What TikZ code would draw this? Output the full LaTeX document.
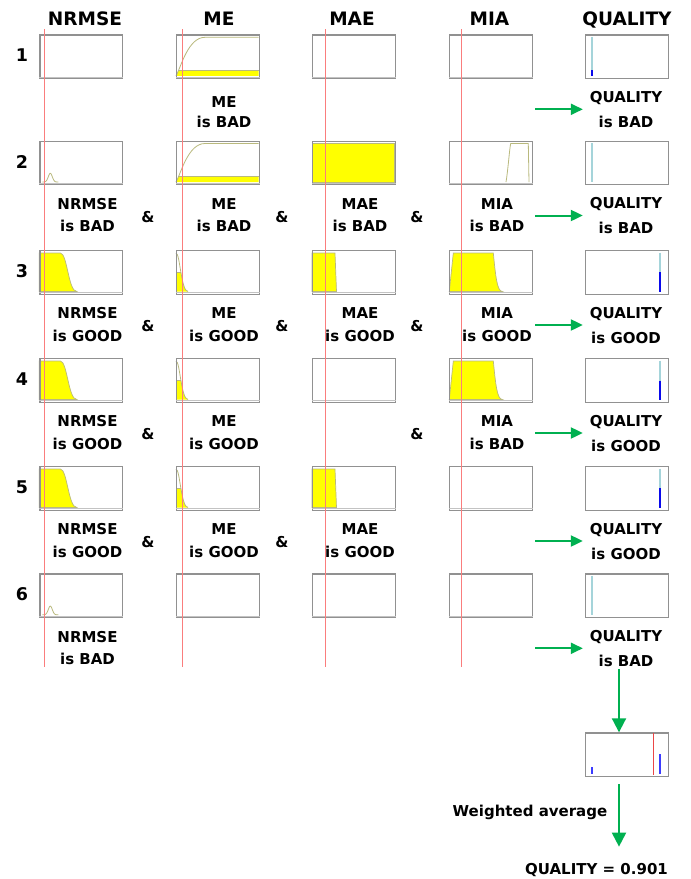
\documentclass[tikz,border=0pt]{standalone}
\usepackage{fontspec}
\setmainfont{DejaVu Sans}
\usetikzlibrary{arrows.meta}
\definecolor{curvecol}{RGB}{185,185,125}
\definecolor{boxgray}{RGB}{145,145,145}
\definecolor{axisgray}{RGB}{195,195,195}
\definecolor{redln}{RGB}{250,125,125}
\definecolor{grn}{RGB}{0,176,80}
\definecolor{lblue}{RGB}{165,212,218}
\definecolor{dblue}{RGB}{10,10,235}
\definecolor{yel}{RGB}{255,255,0}
\definecolor{aggred}{RGB}{235,70,70}
\definecolor{aggblue}{RGB}{60,60,255}
\newcommand\atbox[3]{\begin{scope}[shift={(#1,#2)}]#3\end{scope}}
\newcommand\shNRbad{\draw[curve] plot[domain=3:19,samples=41,smooth] (\x,{41.5-8.7*exp(-((\x-11)^2)/8)});}
\newcommand\shNRgood{\filldraw[yfill] (0,41.5) -- (0,3) -- (21,3) .. controls (28,3) and (29,41.5) .. (37.5,41.5) -- cycle;}
\newcommand\shMEbad{\begin{scope}\clip (0,35.7) rectangle (82.5,42);\fill[yel] (0,41.5) .. controls (5,33) and (12,3) .. (29,3) -- (82.5,3) -- (82.5,41.5) -- cycle;\end{scope}%
 \draw[curve] (0,41.5) .. controls (5,33) and (12,3) .. (29,3) -- (82.5,3);%
 \draw[curve] (3,35.7) -- (82.5,35.7);}
\newcommand\shMEgood{\begin{scope}\clip (0,22.3) rectangle (82.5,42);\fill[yel] (0,3) .. controls (4,3) and (5,41.5) .. (12,41.5) -- (0,41.5) -- cycle;\end{scope}%
 \draw[curve] (0,3) .. controls (4,3) and (5,41.5) .. (12,41.5);%
 \draw[curve] (0,22.3) -- (4.8,22.3);}
\newcommand\shMAEgood{\filldraw[yfill] (0,3) -- (23,3) -- (24.5,41.5) -- (0,41.5) -- cycle;}
\newcommand\shMAEbad{\filldraw[yfill] (0,3) rectangle (82.5,41.5);}
\newcommand\shMIAbad{\draw[curve] (57,41.5) .. controls (59,30) and (60.5,8) .. (61.7,3) -- (79.3,3) -- (80,41.5);}
\newcommand\shMIAgood{\filldraw[yfill] (0.3,41.5) -- (4.3,3) -- (44.3,3) .. controls (46.5,25) and (48,41.5) .. (53.3,41.5) -- cycle;}
\newcommand\shQ[2]{\draw[qlight] (#1,2.5) -- (#1,41.8); \draw[qdark] (#1,#2) -- (#1,41.8);}
\newcommand\shQl[1]{\draw[qlight] (#1,2.5) -- (#1,41.8);}
\begin{document}
\begin{tikzpicture}[x=1pt,y=-1pt,
  mfbox/.style={draw=boxgray, line width=1.2pt, minimum width=82.5pt, minimum height=43.5pt, inner sep=0pt, anchor=north west},
  hdr/.style={font=\fontsize{18.5}{20}\selectfont\bfseries, anchor=base},
  rownum/.style={font=\fontsize{17.5}{20}\selectfont\bfseries, anchor=base},
  lab/.style={font=\fontsize{15}{22.5}\selectfont\bfseries, align=center, inner sep=2pt},
  labone/.style={font=\fontsize{15}{20.5}\selectfont\bfseries, align=center, inner sep=2pt},
  qlab/.style={font=\fontsize{15}{25}\selectfont\bfseries, align=center, inner sep=2pt},
  amp/.style={font=\fontsize{15}{16}\selectfont\bfseries, anchor=base},
  plain/.style={font=\fontsize{15}{18}\selectfont\bfseries, anchor=base},
  curve/.style={draw=curvecol, line width=0.8pt},
  yfill/.style={fill=yel, draw=curvecol, line width=0.7pt},
  qlight/.style={draw=lblue, line width=2.3pt},
  qdark/.style={draw=dblue, line width=2.3pt},
  garrow/.style={draw=grn, line width=2pt, -{Triangle[length=12pt,width=11pt]}},
  garrowv/.style={draw=grn, line width=2pt, -{Triangle[length=14pt,width=14pt]}},
  redv/.style={draw=redln, line width=1pt}]
\useasboundingbox (0,0) rectangle (691,879);
\fill[white] (0,0) rectangle (691,879);
% ---- shapes inside boxes
\atbox{176}{34.3}{\shMEbad}
\atbox{585}{34.3}{\shQ{6.7}{36}}
\atbox{39.3}{140.5}{\shNRbad}
\atbox{176}{140.5}{\shMEbad}
\atbox{312}{140.5}{\shMAEbad}
\atbox{449}{140.5}{\shMIAbad}
\atbox{585}{140.5}{\shQl{6.7}}
\atbox{39.3}{250}{\shNRgood}
\atbox{176}{250}{\shMEgood}
\atbox{312}{250}{\shMAEgood}
\atbox{449}{250}{\shMIAgood}
\atbox{585}{250}{\shQ{75}{22.3}}
\atbox{39.3}{358}{\shNRgood}
\atbox{176}{358}{\shMEgood}
\atbox{449}{358}{\shMIAgood}
\atbox{585}{358}{\shQ{75}{22.7}}
\atbox{39.3}{466}{\shNRgood}
\atbox{176}{466}{\shMEgood}
\atbox{312}{466}{\shMAEgood}
\atbox{585}{466}{\shQ{75}{22}}
\atbox{39.3}{573.3}{\shNRbad}
\atbox{585}{573.3}{\shQl{6.7}}
% ---- boxes
\foreach \r/\T in {1/34.3,2/140.5,3/250,4/358,5/466,6/573.3}{
  \foreach \c/\L in {1/39.3,2/176,3/312,4/449}{
    \node[mfbox] (b\r\c) at (\L,\T) {};
    \draw[draw=axisgray, line width=1pt] ([yshift=1.8pt]b\r\c.south west) -- ([yshift=1.8pt]b\r\c.south east);
  }
  \node[mfbox] (b\r5) at (585,\T) {};
}
\node[mfbox] (fb) at (585,732.3) {};
\atbox{585}{732.3}{%
  \draw[draw=aggblue, line width=1.6pt] (6.7,35) -- (6.7,41.5);
  \draw[draw=aggred, line width=1.2pt] (68.5,0.6) -- (68.5,42.9);
  \draw[draw=aggblue, line width=1.6pt] (75,22) -- (75,41.5);}
% ---- red vertical lines
\foreach \x in {44.5,182.5,325.5,461.5}{\draw[redv] (\x,29) -- (\x,667);}
% ---- headers
\node[hdr] (hN) at (85,25) {NRMSE};
\node[hdr] (hME) at (219,25) {ME};
\node[hdr] (hMAE) at (352,25) {MAE};
\node[hdr] (hMIA) at (489.5,25) {MIA};
\node[hdr] (hQ) at (627,25) {QUALITY};
% ---- row numbers
\foreach \r/\T in {1/34.3,2/140.5,3/250,4/358,5/466,6/573.3}{
  \node[rownum] (n\r) at (22,\T+27.6) {\r};
}
% ---- rule labels
\node[labone] (l12) at (224,34.3+78) {ME\\is BAD};
\node[lab] (l21) at (87.5,140.5+74.75) {NRMSE\\is BAD};
\node[lab] (l22) at (224,140.5+74.75) {ME\\is BAD};
\node[lab] (l23) at (360,140.5+74.75) {MAE\\is BAD};
\node[lab] (l24) at (497,140.5+74.75) {MIA\\is BAD};
\node[lab] (l31) at (87.5,250+74.75) {NRMSE\\is GOOD};
\node[lab] (l32) at (224,250+74.75) {ME\\is GOOD};
\node[lab] (l33) at (360,250+74.75) {MAE\\is GOOD};
\node[lab] (l34) at (497,250+74.75) {MIA\\is GOOD};
\node[lab] (l41) at (87.5,358+74.75) {NRMSE\\is GOOD};
\node[lab] (l42) at (224,358+74.75) {ME\\is GOOD};
\node[lab] (l44) at (497,358+74.75) {MIA\\is BAD};
\node[lab] (l51) at (87.5,466+74.75) {NRMSE\\is GOOD};
\node[lab] (l52) at (224,466+74.75) {ME\\is GOOD};
\node[lab] (l53) at (360,466+74.75) {MAE\\is GOOD};
\node[lab] (l61) at (87.5,573.3+74.75) {NRMSE\\is BAD};
% ---- ampersands
\node[amp] (a21) at (148,140.5+81.5) {\&};
\node[amp] (a22) at (282,140.5+81.5) {\&};
\node[amp] (a23) at (417,140.5+81.5) {\&};
\node[amp] (a31) at (148,250+81) {\&};
\node[amp] (a32) at (282,250+81) {\&};
\node[amp] (a33) at (417,250+81) {\&};
\node[amp] (a41) at (148,358+81) {\&};
\node[amp] (a43) at (417,358+81) {\&};
\node[amp] (a51) at (148,466+81) {\&};
\node[amp] (a52) at (282,466+81) {\&};
% ---- quality labels and arrows
\foreach \r/\T/\v in {1/34.3/BAD,2/140.5/BAD,3/250/GOOD,4/358/GOOD,5/466/GOOD,6/573.3/BAD}{
  \node[qlab] (q\r) at (626,\T+75.5) {QUALITY\\is \v};
  \coordinate (as\r) at (535,\T+75);
  \draw[garrow, shorten >=4.8pt] (as\r) -- (as\r -| q\r.west);
}
% ---- aggregation
\coordinate (vx) at (619,0);
\draw[garrowv] (q6.south -| vx) -- (fb.north -| vx);
\node[plain] (wa) at (530,816.7) {Weighted average};
\node[plain] (res) at (596.5,874.3) {QUALITY = 0.901};
\draw[garrowv, shorten <=7pt, shorten >=13pt] (fb.south -| vx) -- (res.north -| vx);
\end{tikzpicture}
\end{document}
